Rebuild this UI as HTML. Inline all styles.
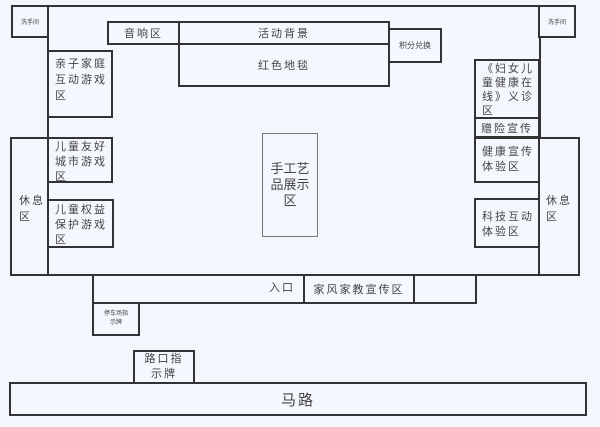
<!DOCTYPE html>
<html><head><meta charset="utf-8"><style>
body{margin:0;width:600px;height:427px;background:#f3f6fc;position:relative;overflow:hidden;font-family:"Liberation Sans","Noto Sans CJK SC",sans-serif;color:#444}
.b{position:absolute;border:2.5px solid #333;box-sizing:border-box;background:#f4f7fd}
.c{display:flex;align-items:center;justify-content:center;text-align:center}
.t{font-size:11px;line-height:15px;letter-spacing:2px;padding:4px 0 0 6px;text-align:left;white-space:nowrap}
</style></head><body>
<div class="b" style="left:47px;top:5px;width:494px;height:271px"></div>
<div class="b c" style="left:11px;top:5px;width:38px;height:33px;font-size:6px">洗手间</div>
<div class="b c" style="left:538px;top:5px;width:38px;height:33px;font-size:6px">洗手间</div>
<div class="b c" style="left:107px;top:21px;width:73px;height:24px;font-size:11px;letter-spacing:2px">音响区</div>
<div class="b c" style="left:178px;top:21px;width:212px;height:24px;font-size:11px;letter-spacing:2px">活动背景</div>
<div class="b c" style="left:178px;top:43px;width:212px;height:44px;font-size:11px;letter-spacing:2px">红色地毯</div>
<div class="b c" style="left:388px;top:28px;width:54px;height:35px;font-size:8px">积分兑换</div>
<div class="b t" style="left:47px;top:50px;width:66px;height:68px;line-height:16px">亲子家庭<br>互动游戏<br>区</div>
<div class="b t" style="left:47px;top:137px;width:66px;height:46px;padding-top:1px">儿童友好<br>城市游戏<br>区</div>
<div class="b t" style="left:47px;top:199px;width:67px;height:49px;padding-top:2px">儿童权益<br>保护游戏<br>区</div>
<div class="b" style="left:10px;top:137px;width:39px;height:139px;font-size:11px;line-height:16px;padding:54px 0 0 7px;letter-spacing:2px;white-space:nowrap">休息<br>区</div>
<div style="position:absolute;left:262px;top:133px;width:56px;height:104px;border:1px solid #777;box-sizing:border-box;font-size:13px;line-height:16px" class="c">手工艺<br>品展示<br>区</div>
<div class="b t" style="left:474px;top:59px;width:66px;height:60px;padding-top:1px;font-size:11px;line-height:14px">《妇女儿<br>童健康在<br>线》义诊<br>区</div>
<div class="b c" style="left:474px;top:117px;width:66px;height:21px;font-size:11px;letter-spacing:2px">赠险宣传</div>
<div class="b t" style="left:474px;top:137px;width:66px;height:46px;padding-top:6px">健康宣传<br>体验区</div>
<div class="b t" style="left:474px;top:198px;width:66px;height:50px;padding-top:10px">科技互动<br>体验区</div>
<div class="b" style="left:538px;top:137px;width:42px;height:139px;font-size:11px;line-height:16px;padding:54px 0 0 6px;letter-spacing:2px;white-space:nowrap">休息<br>区</div>
<div class="b" style="left:92px;top:274px;width:213px;height:30px;font-size:11px;line-height:25px;text-align:right;padding-right:8px;letter-spacing:2px">入口</div>
<div class="b c" style="left:303px;top:274px;width:112px;height:30px;font-size:11px;letter-spacing:2px">家风家教宣传区</div>
<div class="b" style="left:413px;top:274px;width:64px;height:30px"></div>
<div class="b c" style="left:92px;top:302px;width:48px;height:34px;font-size:6px;line-height:9px;white-space:nowrap">停车场指<br>示牌</div>
<div class="b c" style="left:133px;top:350px;width:62px;height:34px;font-size:11px;line-height:15px;letter-spacing:2px;white-space:nowrap">路口指<br>示牌</div>
<div class="b c" style="left:9px;top:382px;width:578px;height:34px;font-size:15px;letter-spacing:2px">马路</div>
</body></html>
